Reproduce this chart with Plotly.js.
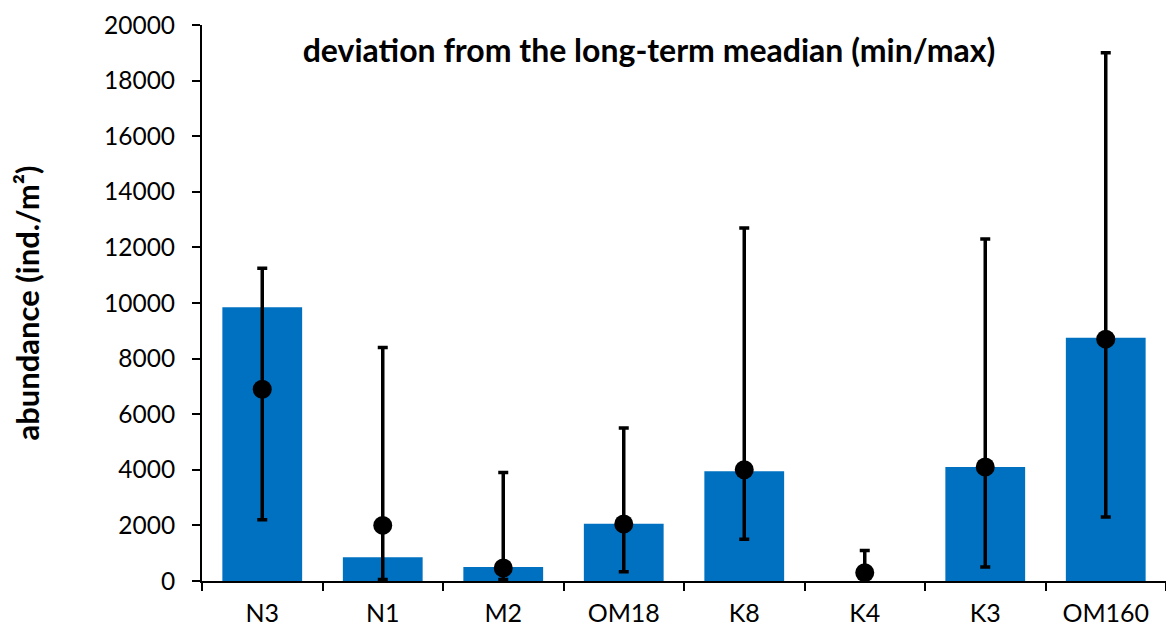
<!DOCTYPE html>
<html>
<head>
<meta charset="utf-8">
<script src="https://cdn.plot.ly/plotly-3.0.1.min.js"></script>
<style>html,body{margin:0;padding:0;background:#fff;overflow:hidden}#chart{width:1166px;height:630px}</style>
</head>
<body>
<div id="chart"></div>
<script>
const categories = ["N3", "N1", "M2", "OM18", "K8", "K4", "K3", "OM160"];
const barValues = [9850, 850, 500, 2060, 3950, 0, 4100, 8750];
const medianValues = [6900, 2000, 470, 2050, 4000, 300, 4100, 8700];
const minValues = [2200, 50, 50, 330, 1500, 250, 500, 2300];
const maxValues = [11250, 8400, 3900, 5500, 12700, 1100, 12300, 19000];
const yTicks = [0, 2000, 4000, 6000, 8000, 10000, 12000, 14000, 16000, 18000, 20000];

const errPlus = maxValues.map((v, i) => v - medianValues[i]);
const errMinus = medianValues.map((v, i) => v - minValues[i]);

const FONT = "Lato, 'Open Sans', sans-serif";

const traces = [
  {
    type: "bar",
    x: categories,
    y: barValues,
    marker: {color: "#0070C0"},
    hoverinfo: "skip"
  },
  {
    type: "scatter",
    mode: "markers",
    x: categories,
    y: medianValues,
    marker: {color: "#000000", size: 19},
    error_y: {
      type: "data",
      symmetric: false,
      array: errPlus,
      arrayminus: errMinus,
      color: "#000000",
      thickness: 3.5,
      width: 5
    },
    cliponaxis: false
  }
];

const layout = {
  width: 1166,
  height: 630,
  margin: {l: 202, r: 0, t: 25, b: 49, pad: 0},
  paper_bgcolor: "#ffffff",
  plot_bgcolor: "#ffffff",
  showlegend: false,
  bargap: 0.338,
  font: {family: FONT, color: "#000000", size: 24},
  title: {
    text: "<b>deviation from the long-term meadian (min/max)</b>",
    font: {family: FONT, size: 32, color: "#000000"},
    xref: "paper",
    x: 0.4637,
    xanchor: "center",
    yref: "container",
    y: 0.92,
    yanchor: "middle"
  },
  xaxis: {
    type: "category",
    showgrid: false,
    zeroline: false,
    showline: true,
    linecolor: "#000000",
    linewidth: 2,
    ticks: "outside",
    tickson: "boundaries",
    ticklen: 8,
    tickwidth: 2,
    tickcolor: "#000000",
    ticklabelstandoff: 9,
    tickfont: {family: FONT, size: 25, color: "#000000"},
    fixedrange: true
  },
  yaxis: {
    range: [0, 20000],
    tickvals: yTicks,
    ticktext: yTicks.map(String),
    showgrid: false,
    zeroline: false,
    showline: true,
    linecolor: "#000000",
    linewidth: 2,
    ticks: "outside",
    ticklen: 8,
    tickwidth: 2,
    tickcolor: "#000000",
    ticklabelstandoff: 12,
    tickfont: {family: FONT, size: 24.5, color: "#000000"},
    title: {
      text: "<b>abundance (ind./m²)</b>",
      font: {family: FONT, size: 31, color: "#000000"},
      standoff: 55
    },
    fixedrange: true
  }
};

Plotly.newPlot("chart", traces, layout, {displayModeBar: false, staticPlot: true});
</script>
</body>
</html>
